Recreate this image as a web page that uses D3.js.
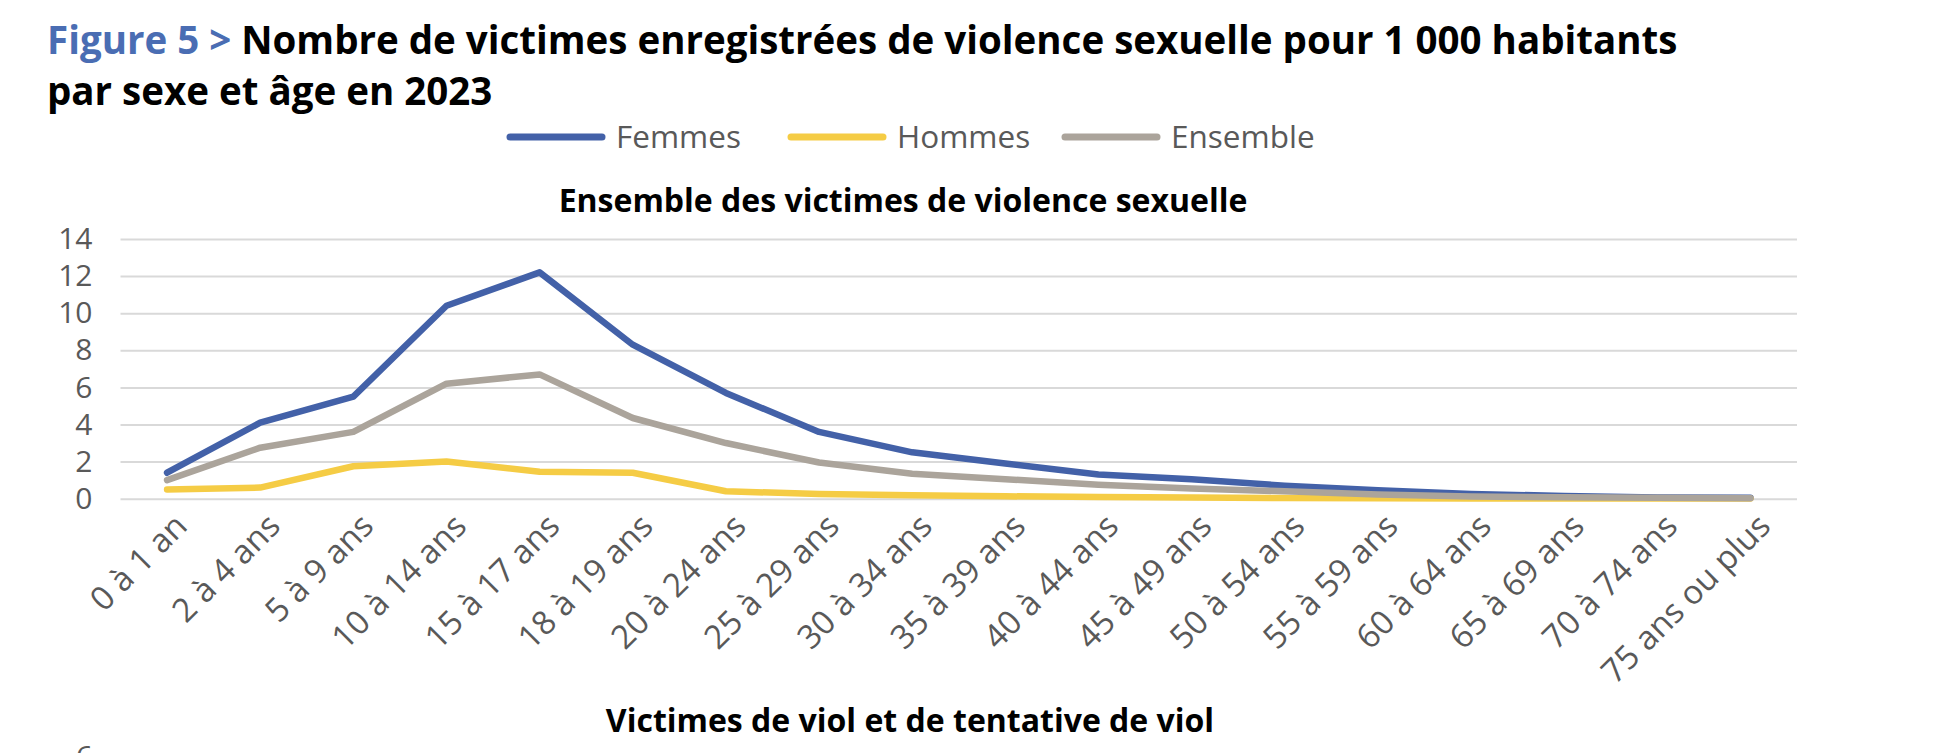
<!DOCTYPE html>
<html>
<head>
<meta charset="utf-8">
<script src="https://cdn.jsdelivr.net/npm/d3@7"></script>
<style>
    body { margin: 0; background: #fff; }
    text { font-family: "Open Sans", sans-serif; }
</style>
</head>
<body>
<div id="chart"></div>
<script>
var ageGroups = ["0 à 1 an", "2 à 4 ans", "5 à 9 ans", "10 à 14 ans", "15 à 17 ans", "18 à 19 ans",
    "20 à 24 ans", "25 à 29 ans", "30 à 34 ans", "35 à 39 ans", "40 à 44 ans", "45 à 49 ans",
    "50 à 54 ans", "55 à 59 ans", "60 à 64 ans", "65 à 69 ans", "70 à 74 ans", "75 ans ou plus"];
var femmes = [1.4, 4.1, 5.5, 10.4, 12.2, 8.3, 5.7, 3.6, 2.5, 1.9, 1.3, 1.05, 0.7, 0.45, 0.25, 0.15, 0.07, 0.05];
var hommes = [0.5, 0.6, 1.75, 2.0, 1.45, 1.4, 0.4, 0.25, 0.18, 0.13, 0.09, 0.06, 0.04, 0.02, 0.01, 0.01, 0.01, 0.01];
var ensemble = [1.0, 2.75, 3.6, 6.2, 6.7, 4.35, 3.0, 1.95, 1.35, 1.05, 0.75, 0.55, 0.4, 0.22, 0.12, 0.08, 0.05, 0.03];
var seriesNames = ["Femmes", "Hommes", "Ensemble"];
var seriesColors = ["#4361a8", "#f5cc45", "#aba49b"];
var yTicks = [0, 2, 4, 6, 8, 10, 12, 14];

var W = 1942, H = 753;
var svg = d3.select("#chart").append("svg")
    .attr("width", W)
    .attr("height", H);

// title, two lines
var t1 = svg.append("text")
    .attr("x", 47).attr("y", 54)
    .style("font-size", "38.5px").style("font-weight", 700);
t1.append("tspan").attr("fill", "#4a6db3").text("Figure 5 > ");
t1.append("tspan").attr("fill", "#000").text("Nombre de victimes enregistrées de violence sexuelle pour 1 000 habitants");
svg.append("text")
    .attr("x", 47).attr("y", 105)
    .style("font-size", "38.5px").style("font-weight", 700)
    .text("par sexe et âge en 2023");

// legend
var legendX = [506, 787, 1061];
seriesNames.forEach(function (name, i) {
    svg.append("line")
        .attr("x1", legendX[i] + 4).attr("x2", legendX[i] + 96)
        .attr("y1", 137).attr("y2", 137)
        .attr("stroke", seriesColors[i])
        .attr("stroke-width", 7)
        .attr("stroke-linecap", "round");
    svg.append("text")
        .attr("x", legendX[i] + 110).attr("y", 137)
        .attr("dy", "0.35em")
        .attr("fill", "#595959")
        .style("font-size", "31.5px")
        .text(name);
});

// subtitle of the first panel
svg.append("text")
    .attr("x", 903).attr("y", 212)
    .attr("text-anchor", "middle")
    .style("font-size", "32px").style("font-weight", 700)
    .text("Ensemble des victimes de violence sexuelle");

var x = d3.scaleBand()
    .domain(ageGroups)
    .range([120.5, 1797]);
var y = d3.scaleLinear()
    .domain([0, 14])
    .range([498.7, 239]);

// horizontal gridlines + y labels
var yAxis = svg.append("g")
    .attr("transform", "translate(120.5,0)")
    .call(d3.axisLeft(y).tickValues(yTicks).tickSize(-(1797 - 120.5)).tickPadding(28));
yAxis.select(".domain").remove();
yAxis.selectAll("line").attr("stroke", "#d9d9d9").attr("stroke-width", 2);
yAxis.selectAll("text")
    .attr("fill", "#595959")
    .style("font-size", "30px")
    .style("font-family", "Open Sans");

// x labels rotated
var xAxis = svg.append("g")
    .attr("transform", "translate(0,499)")
    .call(d3.axisBottom(x).tickSize(0));
xAxis.select(".domain").remove();
xAxis.selectAll("text")
    .attr("fill", "#595959")
    .style("font-size", "33px")
    .style("font-family", "Open Sans")
    .attr("text-anchor", "end")
    .attr("transform", "translate(22,29) rotate(-45)")
    .attr("x", 0).attr("y", 0).attr("dy", 0);

// series lines, gray drawn last (on top)
var line = d3.line()
    .x(function (d, i) { return x(ageGroups[i]) + x.bandwidth() / 2; })
    .y(function (d) { return y(d); });
[femmes, hommes, ensemble].forEach(function (values, i) {
    svg.append("path")
        .datum(values)
        .attr("d", line)
        .attr("fill", "none")
        .attr("stroke", seriesColors[i])
        .attr("stroke-width", 6.5)
        .attr("stroke-linejoin", "round")
        .attr("stroke-linecap", "round");
});

// second panel, only its title and the top of its first tick show
svg.append("text")
    .attr("x", 910).attr("y", 732)
    .attr("text-anchor", "middle")
    .style("font-size", "32px").style("font-weight", 700)
    .text("Victimes de viol et de tentative de viol");
svg.append("text")
    .attr("x", 93).attr("y", 767)
    .attr("text-anchor", "end")
    .attr("fill", "#595959")
    .style("font-size", "30px")
    .text("6");
</script>
</body>
</html>
